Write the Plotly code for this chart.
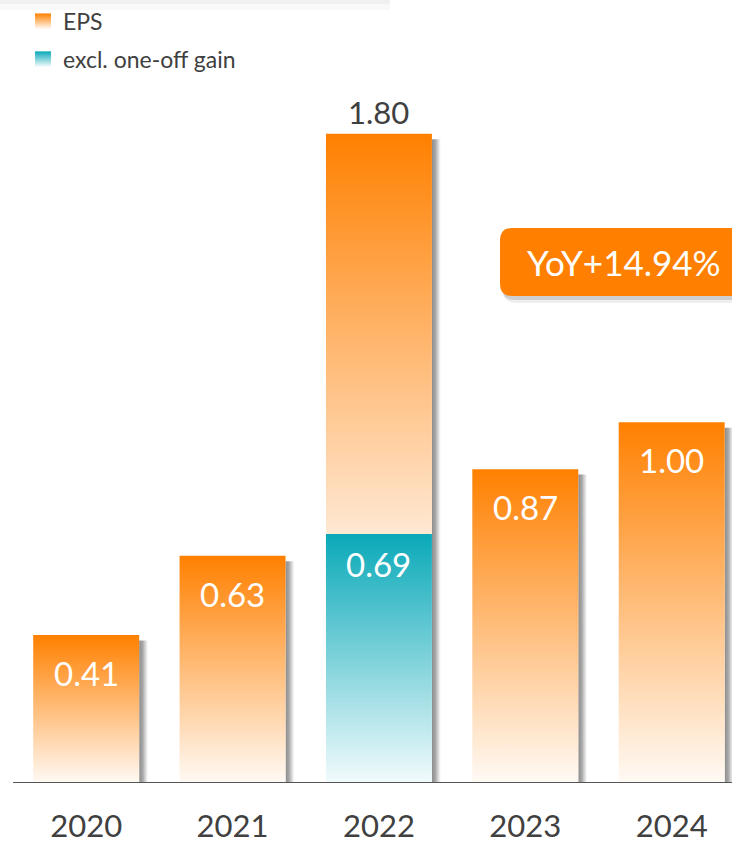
import plotly.graph_objects as go

# ---- data ----
years = ["2020", "2021", "2022", "2023", "2024"]
eps = [0.41, 0.63, 1.80, 0.87, 1.00]
excl_one_off = [None, None, 0.69, None, None]
eps_labels = ["0.41", "0.63", "1.80", "0.87", "1.00"]
excl_labels = [None, None, "0.69", None, None]
series_names = ["EPS", "excl. one-off gain"]
yoy_text = "YoY+14.94%"

# ---- style ----
ORANGE = "#FF8000"
TEAL = "#0AA9B9"
DARK = "#404040"
FONT = "Lato"
BAR_W = 0.724
SHADOW_W = 0.065

W, H = 732, 846
ML, MR, MT, MB = 13, 0, 0, 63
PW, PH = W - ML - MR, H - MT - MB

fig = go.Figure()


def rect(i, y0, y1, grad, name, shadow=False):
    if shadow:
        x0, x1 = i + BAR_W / 2, i + BAR_W / 2 + SHADOW_W
        g = dict(type="horizontal", colorscale=grad, start=x0, stop=x1)
    else:
        x0, x1 = i - BAR_W / 2, i + BAR_W / 2
        g = dict(type="vertical", colorscale=grad, start=y0, stop=y1)
    fig.add_trace(go.Scatter(
        x=[x0, x1, x1, x0, x0], y=[y0, y0, y1, y1, y0],
        mode="lines", line=dict(width=0), fill="toself",
        fillgradient=g, hoverinfo="skip", showlegend=False, name=name))


orange_full = [[0, "#FFFAF5"], [1, ORANGE]]
orange_part = [[0, "#FFE8D3"], [1, ORANGE]]
teal_grad = [[0, "#F2FBFC"], [1, TEAL]]
shadow_grad = [[0, "rgba(140,140,140,1)"], [0.4, "rgba(160,160,160,0.9)"],
               [0.75, "rgba(205,205,205,0.55)"], [1, "rgba(255,255,255,0)"]]

for i, (v, ex) in enumerate(zip(eps, excl_one_off)):
    rect(i, 0, v - 0.015, shadow_grad, "shadow", shadow=True)
    if ex is None:
        rect(i, 0, v, orange_full, series_names[0])
    else:
        rect(i, ex, v, orange_part, series_names[0])
        rect(i, 0, ex, teal_grad, series_names[1])

# legend-only entries
for nm, col in zip(series_names, [ORANGE, TEAL]):
    fig.add_trace(go.Scatter(
        x=[None], y=[None], mode="markers", name=nm, legendgroup=nm,
        marker=dict(symbol="square", size=16, color=col,
                    gradient=dict(type="vertical", color="white"))))

annotations = []
for i, (v, ex, lab, exlab) in enumerate(zip(eps, excl_one_off, eps_labels, excl_labels)):
    if ex is None:
        annotations.append(dict(x=i, y=v, xref="x", yref="y", text=lab, showarrow=False,
                                yanchor="top", yshift=-16,
                                font=dict(family=FONT, size=33, color="white")))
    else:
        annotations.append(dict(x=i, y=v, xref="x", yref="y", text=lab, showarrow=False,
                                yanchor="bottom", yshift=1,
                                font=dict(family=FONT, size=31, color=DARK)))
        annotations.append(dict(x=i, y=ex, xref="x", yref="y", text=exlab, showarrow=False,
                                yanchor="top", yshift=-8,
                                font=dict(family=FONT, size=33, color="white")))


def px_x(p):
    return (p - ML) / PW


def px_y(p):
    return (H - MB - p) / PH


def rounded(x0, y0, x1, y1, r):
    # pixel coords -> paper path
    X = px_x
    Y = px_y
    rx = r / PW
    ry = r / PH
    a, b, c, d = X(x0), Y(y0), X(x1), Y(y1)  # b top, d bottom
    return (f"M{a + rx},{b} L{c - rx},{b} Q{c},{b} {c},{b - ry} "
            f"L{c},{d + ry} Q{c},{d} {c - rx},{d} L{a + rx},{d} "
            f"Q{a},{d} {a},{d + ry} L{a},{b - ry} Q{a},{b} {a + rx},{b} Z")


shapes = [
    # faint shadow strip at top-left
    dict(type="rect", xref="paper", yref="paper", x0=px_x(0), x1=px_x(390), y0=px_y(0), y1=px_y(4),
         fillcolor="rgba(228,228,228,0.55)", line=dict(width=0), layer="below"),
    dict(type="rect", xref="paper", yref="paper", x0=px_x(0), x1=px_x(390), y0=px_y(4), y1=px_y(10),
         fillcolor="rgba(242,242,242,0.45)", line=dict(width=0), layer="below"),
    # YoY box soft shadow + box
    dict(type="path", xref="paper", yref="paper", path=rounded(503, 233, 745, 303, 13),
         fillcolor="rgba(190,190,190,0.25)", line=dict(width=0)),
    dict(type="path", xref="paper", yref="paper", path=rounded(502, 231, 745, 300, 12),
         fillcolor="rgba(150,150,150,0.35)", line=dict(width=0)),
    dict(type="path", xref="paper", yref="paper", path=rounded(500, 228, 745, 296, 12),
         fillcolor=ORANGE, line=dict(width=0)),
]

annotations.append(dict(x=px_x(624), y=px_y(262), xref="paper", yref="paper", text=yoy_text,
                        showarrow=False, xanchor="center", yanchor="middle",
                        font=dict(family=FONT, size=35, color="white")))

fig.update_layout(
    width=W, height=H,
    margin=dict(l=ML, r=MR, t=MT, b=MB, autoexpand=False),
    paper_bgcolor="white", plot_bgcolor="white",
    shapes=shapes, annotations=annotations,
    showlegend=True,
    legend=dict(x=px_x(23), y=1.0, xanchor="left", yanchor="top",
                font=dict(family=FONT, size=23, color=DARK),
                traceorder="grouped", tracegroupgap=5, itemwidth=30,
                bgcolor="rgba(0,0,0,0)"),
    xaxis=dict(range=[-0.5, -0.5 + PW / 146.375], tickmode="array",
               tickvals=list(range(len(years))), ticktext=years,
               showgrid=False, zeroline=False, showline=False, ticks="",
               ticklabelstandoff=22, automargin=False,
               tickfont=dict(family=FONT, size=31, color=DARK), fixedrange=True),
    yaxis=dict(range=[0, PH / 360.7], visible=False, showgrid=False, zeroline=False,
               automargin=False, fixedrange=True),
)

# baseline
fig.add_shape(type="line", xref="paper", yref="y", x0=0, x1=1, y0=0, y1=0,
              line=dict(color="#555555", width=2))

fig.write_html("out.html", config={"displayModeBar": False},
               post_script="document.body.style.margin='0';document.body.style.overflow='hidden';")
